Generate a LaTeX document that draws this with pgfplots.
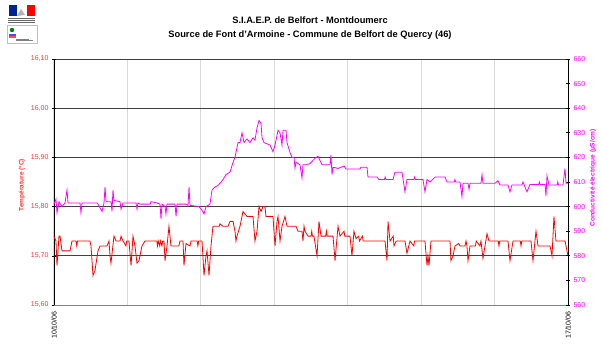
\documentclass[border=0pt]{standalone}
\usepackage{pgfplots}
\pgfplotsset{compat=1.18}
\usepackage{fontspec}
\setmainfont{Liberation Sans}
\definecolor{tred}{RGB}{255,0,0}
\definecolor{cmag}{RGB}{255,0,255}
\definecolor{lblred}{RGB}{255,50,50}
\definecolor{mblue}{RGB}{0,35,149}
\begin{document}
\begin{tikzpicture}[x=1pt,y=1pt]
\begin{axis}[
  at={(0,0)}, anchor=south west,
  scale only axis, width=514pt, height=246pt,
  xmin=0, xmax=7, ymin=15.6, ymax=16.1,
  axis x line*=bottom, axis y line*=left,
  x axis line style={draw=gray, line width=0.9pt, -},
  y axis line style={draw=black, line width=0.9pt, -},
  xtick={0,1,2,3,4,5,6,7},
  xticklabels={10/10/06,,,,,,,17/10/06},
  xticklabel style={rotate=90, anchor=east, font=\fontsize{7}{8}\selectfont, xshift=-1pt},
  xtick style={draw=none},
  ytick={15.6,15.7,15.8,15.9,16.0,16.1},
  yticklabel style={lblred, font=\fontsize{7}{8}\selectfont,
    /pgf/number format/.cd, fixed, fixed zerofill, precision=2, use comma},
  /pgf/number format/assume math mode=true,
  ytick style={draw=black, line width=0.6pt},
  tick align=center, major tick length=4pt,
  xmajorgrids, ymajorgrids,
  x grid style={gray!30, line width=1pt},
  y grid style={black!75, line width=0.9pt},
  clip=false,
]
\addplot[tred, line width=0.8pt] coordinates {
(0,15.74) (0.027,15.73) (0.041,15.68) (0.068,15.74) (0.082,15.74) (0.109,15.71)
(0.218,15.71) (0.245,15.73) (0.30,15.73) (0.31,15.72) (0.32,15.73) (0.490,15.73)
(0.504,15.72) (0.531,15.66) (0.558,15.67) (0.599,15.71) (0.627,15.72) (0.722,15.72)
(0.749,15.73) (0.763,15.70) (0.776,15.685) (0.817,15.74) (0.845,15.73) (0.899,15.73)
(0.913,15.74) (0.940,15.73) (0.98,15.72) (0.99,15.73) (1.021,15.73) (1.049,15.68)
(1.076,15.74) (1.103,15.72) (1.130,15.685) (1.158,15.69) (1.171,15.70) (1.198,15.72)
(1.239,15.73) (1.40,15.73) (1.41,15.72) (1.42,15.73) (1.44,15.72) (1.45,15.73)
(1.47,15.72) (1.48,15.73) (1.498,15.73) (1.512,15.69) (1.539,15.72) (1.566,15.76)
(1.593,15.72) (1.70,15.72) (1.716,15.73) (1.757,15.73) (1.770,15.68) (1.798,15.725)
(1.852,15.72) (1.866,15.73) (1.95,15.73) (1.96,15.72) (1.97,15.73) (2.016,15.73)
(2.043,15.66) (2.070,15.70) (2.084,15.71) (2.111,15.66) (2.138,15.72) (2.165,15.76)
(2.25,15.76) (2.26,15.765) (2.30,15.76) (2.370,15.76) (2.397,15.77) (2.438,15.77)
(2.465,15.75) (2.478,15.73) (2.492,15.74) (2.533,15.76) (2.574,15.79) (2.628,15.78)
(2.710,15.78) (2.737,15.73) (2.765,15.75) (2.792,15.80) (2.820,15.79) (2.845,15.80)
(2.873,15.80) (2.887,15.78) (2.982,15.78) (3.010,15.72) (3.037,15.77) (3.051,15.78)
(3.078,15.73) (3.105,15.76) (3.146,15.78) (3.173,15.76) (3.296,15.76) (3.323,15.75)
(3.377,15.75) (3.391,15.73) (3.405,15.76) (3.418,15.75) (3.459,15.74) (3.50,15.74)
(3.51,15.75) (3.52,15.74) (3.540,15.74) (3.582,15.70) (3.609,15.77) (3.636,15.74)
(3.70,15.74) (3.71,15.75) (3.72,15.74) (3.800,15.74) (3.827,15.69) (3.868,15.76)
(3.895,15.74) (3.95,15.75) (3.96,15.74) (4.031,15.74) (4.058,15.70) (4.085,15.75)
(4.113,15.735) (4.15,15.74) (4.16,15.73) (4.20,15.74) (4.21,15.73) (4.303,15.73)
(4.508,15.73) (4.535,15.69) (4.549,15.77) (4.576,15.73) (4.62,15.74) (4.63,15.72)
(4.66,15.73) (4.780,15.73) (4.807,15.705) (4.848,15.73) (4.90,15.72) (4.91,15.73)
(5.052,15.73) (5.080,15.68) (5.093,15.70) (5.107,15.68) (5.134,15.73) (5.189,15.73)
(5.393,15.73) (5.406,15.69) (5.434,15.70) (5.461,15.72) (5.51,15.725) (5.53,15.72)
(5.597,15.72) (5.611,15.73) (5.624,15.72) (5.638,15.69) (5.665,15.72) (5.74,15.72)
(5.75,15.73) (5.801,15.72) (5.815,15.73) (5.842,15.695) (5.897,15.745) (5.924,15.73)
(6.05,15.73) (6.06,15.72) (6.07,15.73) (6.183,15.73) (6.210,15.69) (6.251,15.73)
(6.35,15.73) (6.36,15.72) (6.37,15.73) (6.496,15.73) (6.523,15.69) (6.564,15.75)
(6.592,15.72) (6.70,15.72) (6.755,15.72) (6.782,15.70) (6.809,15.78) (6.836,15.73)
(6.90,15.73) (6.959,15.73) (6.973,15.72) (7.0,15.70)
};
\end{axis}
\begin{axis}[
  at={(0,0)}, anchor=south west,
  scale only axis, width=514pt, height=246pt,
  xmin=0, xmax=7, ymin=560, ymax=660,
  axis x line=none, axis y line*=right,
  y axis line style={draw=black, line width=0.9pt, -},
  ytick={560,570,...,660},
  yticklabel style={cmag, font=\fontsize{7}{8}\selectfont,
    /pgf/number format/.cd, fixed, precision=0},
  /pgf/number format/assume math mode=true,
  ytick style={draw=black, line width=0.6pt},
  tick align=center, major tick length=4pt,
  clip=false,
]
\addplot[cmag, line width=0.8pt] coordinates {
(0,601) (0.027,603) (0.041,597.5) (0.068,602) (0.109,600) (0.150,601.5) (0.177,606.7)
(0.191,601.5) (0.354,601.5) (0.367,597.5) (0.381,601.5) (0.586,601.5) (0.599,601)
(0.654,598) (0.681,601.5) (0.695,608) (0.708,602) (0.776,602) (0.790,598) (0.803,606.7)
(0.817,602.5) (0.899,602) (0.913,599) (0.940,601.5) (1.117,601.5) (1.130,599)
(1.144,601.5) (1.171,601) (1.239,601) (1.307,601) (1.321,602) (1.40,601.5) (1.444,601)
(1.457,595) (1.471,601) (1.512,600) (1.525,597) (1.539,601) (1.648,601) (1.662,596)
(1.675,601) (1.798,601) (1.825,600.5) (1.839,608) (1.852,600.5) (1.975,600) (2.016,598.5)
(2.043,597) (2.070,600) (2.124,601) (2.152,606.7) (2.193,608) (2.230,608.5) (2.261,609.5)
(2.302,611) (2.342,613) (2.397,614) (2.438,618) (2.465,620) (2.506,626) (2.533,626)
(2.560,630) (2.588,626) (2.628,627.5) (2.669,626) (2.710,628) (2.737,627) (2.765,632)
(2.792,635) (2.819,634) (2.833,628) (2.860,626) (2.942,625) (2.982,622.3) (3.010,625)
(3.051,631) (3.078,630) (3.105,625) (3.119,631) (3.160,631) (3.173,626) (3.214,622)
(3.241,620) (3.269,620) (3.282,615.7) (3.296,618) (3.350,617) (3.377,611.6) (3.391,617)
(3.432,617) (3.486,617.5) (3.554,619.6) (3.595,620.5) (3.650,617) (3.759,617) (3.772,621)
(3.786,613) (3.800,616) (3.868,615.5) (3.950,616.5) (3.977,615.3) (4.167,615.3)
(4.180,616) (4.263,616) (4.276,612) (4.399,612) (4.426,611) (4.500,611) (4.510,612)
(4.520,611) (4.617,611) (4.644,614) (4.739,614) (4.780,606) (4.807,611) (4.90,611)
(4.91,612) (4.92,611) (5.025,611) (5.052,606) (5.080,611) (5.121,610) (5.190,612)
(5.257,612) (5.325,612) (5.352,610) (5.45,610) (5.46,611) (5.47,610) (5.529,610)
(5.556,604) (5.570,609.5) (5.638,609.5) (5.652,607) (5.665,609.5) (5.815,609.5)
(5.829,613) (5.842,609.5) (6.006,609.5) (6.046,610.5) (6.074,608.8) (6.183,608.8)
(6.210,606) (6.237,608.8) (6.373,608.8) (6.387,610) (6.414,608) (6.441,606) (6.482,609)
(6.60,609) (6.61,610) (6.62,609) (6.687,609) (6.700,604.3) (6.714,612.5) (6.741,608.8)
(6.85,608.8) (6.86,610) (6.87,608.8) (6.932,608.8) (6.959,615.5) (6.973,609.5) (7.0,609.5)
};
\end{axis}
% titles
\node[font=\bfseries\fontsize{9.3}{10}\selectfont] at (256pt,285pt) {S.I.A.E.P. de Belfort - Montdoumerc};
\node[font=\bfseries\fontsize{9.3}{10}\selectfont] at (256pt,270pt) {Source de Font d'Armoine - Commune de Belfort de Quercy (46)};
% axis titles
\node[rotate=90, lblred, font=\bfseries\fontsize{6.5}{7}\selectfont] at (-32pt,120pt) {Température (°C)};
\node[rotate=90, cmag, font=\bfseries\fontsize{6.5}{7}\selectfont] at (539pt,127pt) {Conductivité électrique (µS/cm)};
% logo
\fill[mblue] (-45pt,300pt) rectangle (-37pt,289pt);
\fill[red] (-27pt,300pt) rectangle (-19pt,289pt);
\fill[gray!60] (-37pt,289pt) -- (-33pt,296pt) -- (-29pt,290pt) -- cycle;
\draw[black!60, line width=0.6pt] (-46pt,287pt) -- (-19pt,287pt);
\draw[black!60, line width=0.6pt] (-46pt,285pt) -- (-19pt,285pt);
\draw[black!60, line width=0.6pt] (-46pt,283pt) -- (-19pt,283pt);
\draw[gray!50] (-47pt,280pt) rectangle (-17pt,262pt);
\fill[green!50!black] (-42pt,275pt) circle (2.2pt);
\fill[blue!70] (-45pt,271pt) rectangle (-38pt,268.5pt);
\fill[red!70] (-45pt,268.5pt) rectangle (-38pt,267pt);
\draw[black!50, line width=0.4pt] (-38pt,266pt) -- (-25pt,266pt);
\draw[black!50, line width=0.4pt] (-38pt,264.5pt) -- (-21pt,264.5pt);
\useasboundingbox (-54pt,-40pt) rectangle (548pt,305pt);
\end{tikzpicture}
\end{document}
